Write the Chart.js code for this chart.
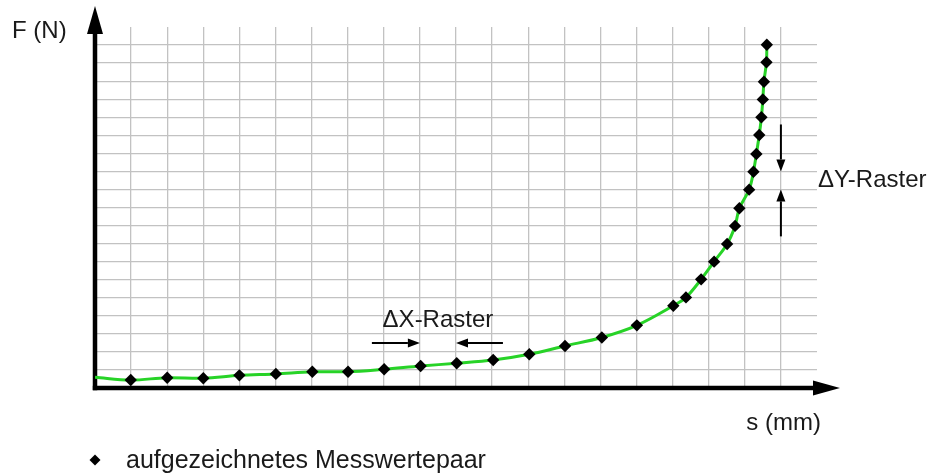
<!DOCTYPE html>
<html lang="de">
<head>
  <meta charset="UTF-8">
  <title>Kraft-Weg-Kurve mit Messwertepaaren</title>
  <script src="https://cdn.jsdelivr.net/npm/chart.js@4.4.1/dist/chart.umd.min.js"></script>
  <style>
    html, body { margin: 0; padding: 0; background: #fff; }
    #wrap { width: 937px; height: 473px; }
  </style>
</head>
<body>
<div id="wrap"><canvas id="myChart" width="937" height="473"></canvas></div>
<script>
const wegS = [0.99, 2.0, 3.0, 4.0, 5.01, 6.02, 7.01, 8.01, 9.02, 10.02, 11.03, 12.03, 13.02, 14.04, 15.01,
  16.02, 16.37, 16.79, 17.15, 17.51, 17.73, 17.85, 18.12, 18.24, 18.32, 18.40, 18.46, 18.50, 18.53, 18.60, 18.61];
const kraftF = [0.44, 0.57, 0.54, 0.70, 0.78, 0.90, 0.90, 1.04, 1.22, 1.37, 1.55, 1.87, 2.33, 2.80, 3.47,
  4.56, 5.02, 6.02, 7.0, 7.98, 8.98, 9.96, 10.99, 11.98, 12.96, 14.02, 15.0, 15.99, 16.97, 18.05, 19.02];
// Kurve beginnt an der F-Achse
const startS = [0];
const startF = [0.59];

const rasterMax = 20;
const legendText = 'aufgezeichnetes Messwertepaar';

const punkte = wegS.map((s, i) => ({ x: s, y: kraftF[i] }));
const kurve = startS.map((s, i) => ({ x: s, y: startF[i] })).concat(punkte);

Chart.defaults.font.family = '"Liberation Sans", Arial, sans-serif';

function pfeil(ctx, x1, y1, x2, y2, len, half) {
  // Linie mit Pfeilspitze bei (x2, y2)
  const a = Math.atan2(y2 - y1, x2 - x1);
  const bx = x2 - Math.cos(a) * len, by = y2 - Math.sin(a) * len;
  ctx.beginPath();
  ctx.moveTo(x1, y1);
  ctx.lineTo(bx, by);
  ctx.stroke();
  ctx.beginPath();
  ctx.moveTo(x2, y2);
  ctx.lineTo(bx - Math.sin(a) * half, by + Math.cos(a) * half);
  ctx.lineTo(bx + Math.sin(a) * half, by - Math.cos(a) * half);
  ctx.closePath();
  ctx.fill();
}

const achsenPlugin = {
  id: 'achsen',
  beforeDatasetsDraw(chart) {
    const { ctx, chartArea: ca, scales: { x, y } } = chart;
    const x0 = x.getPixelForValue(0), y0 = y.getPixelForValue(0);
    ctx.save();
    ctx.strokeStyle = '#000';
    ctx.fillStyle = '#000';
    ctx.lineWidth = 4.5;
    ctx.lineCap = 'butt';
    pfeil(ctx, x0, y0 + 2.2, x0, ca.top - 21, 28, 8);
    pfeil(ctx, x0 - 2.2, y0, ca.right + 23, y0, 27, 7.5);
    ctx.restore();
  },
  afterDraw(chart) {
    const { ctx, chartArea: ca, scales: { x, y } } = chart;
    ctx.save();
    ctx.fillStyle = '#1a1a1a';
    ctx.strokeStyle = '#000';
    ctx.font = '24px "Liberation Sans", Arial, sans-serif';

    // Achsentitel
    ctx.textAlign = 'left';
    ctx.textBaseline = 'alphabetic';
    ctx.fillText('F (N)', 12, ca.top + 11);
    ctx.textAlign = 'right';
    ctx.fillText('s (mm)', ca.right + 4, ca.bottom + 42);

    // ΔX-Raster
    ctx.textAlign = 'center';
    ctx.fillText('ΔX-Raster', x.getPixelForValue(9.5), y.getPixelForValue(3.4));
    ctx.lineWidth = 2;
    ctx.fillStyle = '#000';
    const yx = y.getPixelForValue(2.5);
    pfeil(ctx, x.getPixelForValue(7.67), yx, x.getPixelForValue(9), yx, 12, 4.5);
    pfeil(ctx, x.getPixelForValue(11.3), yx, x.getPixelForValue(10), yx, 12, 4.5);

    // ΔY-Raster
    const xy = x.getPixelForValue(19);
    pfeil(ctx, xy, y.getPixelForValue(14.6), xy, y.getPixelForValue(12), 12, 4.5);
    pfeil(ctx, xy, y.getPixelForValue(8.4), xy, y.getPixelForValue(11), 12, 4.5);
    ctx.fillStyle = '#1a1a1a';
    ctx.textAlign = 'left';
    ctx.textBaseline = 'middle';
    ctx.fillText('ΔY-Raster', ca.right + 1, y.getPixelForValue(11.5));

    // Legende
    const lx = x0Legend(chart), ly = ca.bottom + 72;
    ctx.fillStyle = '#000';
    ctx.beginPath();
    ctx.moveTo(lx, ly - 5.5);
    ctx.lineTo(lx + 5.5, ly);
    ctx.lineTo(lx, ly + 5.5);
    ctx.lineTo(lx - 5.5, ly);
    ctx.closePath();
    ctx.fill();
    ctx.fillStyle = '#1a1a1a';
    ctx.font = '25px "Liberation Sans", Arial, sans-serif';
    ctx.textBaseline = 'alphabetic';
    ctx.fillText(legendText, lx + 31, ly + 7.5);
    ctx.restore();
  }
};

function x0Legend(chart) {
  return chart.scales.x.getPixelForValue(0);
}

function rasterFarbe(c) {
  const v = c.tick ? c.tick.value : 0;
  return (v === 0 || v === rasterMax) ? 'rgba(0,0,0,0)' : '#c2c2c2';
}

const ctx = document.getElementById('myChart').getContext('2d');
const myChart = new Chart(ctx, {
  type: 'line',
  data: {
    datasets: [
      {
        label: legendText,
        data: punkte,
        showLine: false,
        pointStyle: 'rectRot',
        pointRadius: 6.2,
        pointBackgroundColor: '#000',
        pointBorderColor: '#000',
        pointBorderWidth: 0,
        order: 0
      },
      {
        label: 'Kurve',
        data: kurve,
        borderColor: '#27d327',
        borderWidth: 3,
        pointRadius: 0,
        tension: 0.35,
        fill: false,
        order: 1
      }
    ]
  },
  options: {
    responsive: false,
    devicePixelRatio: 1,
    animation: false,
    layout: { padding: { left: 95, top: 27, right: 120, bottom: 85 } },
    plugins: {
      legend: { display: false },
      tooltip: { enabled: false }
    },
    scales: {
      x: {
        type: 'linear',
        min: 0,
        max: rasterMax,
        ticks: { display: false, stepSize: 1 },
        grid: { color: rasterFarbe, lineWidth: 1.3, drawTicks: false },
        border: { display: false }
      },
      y: {
        type: 'linear',
        min: 0,
        max: rasterMax,
        ticks: { display: false, stepSize: 1 },
        grid: { color: rasterFarbe, lineWidth: 1.3, drawTicks: false },
        border: { display: false }
      }
    }
  },
  plugins: [achsenPlugin]
});
</script>
</body>
</html>
